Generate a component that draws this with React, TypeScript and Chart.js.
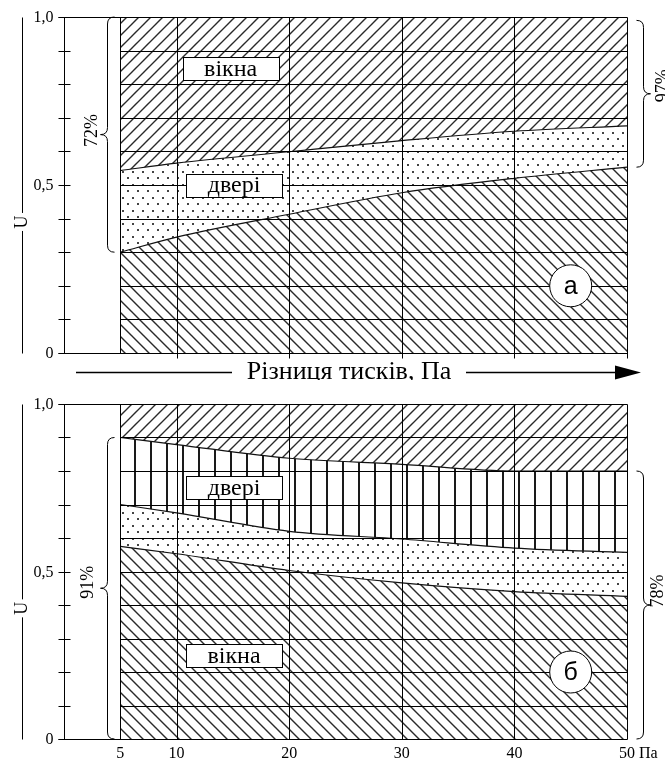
import React, { useEffect, useRef } from "react";
import { Chart, registerables } from "chart.js";

Chart.register(...registerables);

// ---------- data ----------
const PRESSURE = [5, 10, 20, 30, 40, 50];

// panel а
const A_WINDOWS_EDGE = [0.543, 0.565, 0.599, 0.632, 0.66, 0.676];
const A_DOORS_EDGE = [0.3, 0.345, 0.413, 0.477, 0.52, 0.553];

// panel б
const B_TOP_EDGE = [0.9, 0.879, 0.838, 0.82, 0.8, 0.8];
const B_DOORS_EDGE = [0.7, 0.675, 0.62, 0.597, 0.57, 0.557];
const B_WINDOWS_EDGE = [0.575, 0.553, 0.503, 0.466, 0.44, 0.426];

const GRID_X = [5, 10, 20, 30, 40, 50];
const GRID_Y = [0.1, 0.2, 0.3, 0.4, 0.5, 0.6, 0.7, 0.8, 0.9];
const Y_TICK_VALUES = [0, 0.1, 0.2, 0.3, 0.4, 0.5, 0.6, 0.7, 0.8, 0.9, 1.0];
const Y_LABEL_VALUES = [1, 0.5, 0];
const Y_LABEL_TEXT = ["1,0", "0,5", "0"];
const X_LABEL_VALUES = [5, 10, 20, 30, 40, 50];
const X_LABEL_TEXT = ["5", "10", "20", "30", "40", "50"];
const X_UNIT = "Па";
const X_TITLE = "Різниця тисків, Па";
const Y_TITLE = "U";
const LABEL_WINDOWS = "вікна";
const LABEL_DOORS = "двері";

const A_LEFT_BRACE = [1.0, 0.3];
const A_RIGHT_BRACE = [0.99, 0.553];
const B_LEFT_BRACE = [0.9, 0];
const B_RIGHT_BRACE = [0.8, 0];
const A_PCT = ["72%", "97%"];
const B_PCT = ["91%", "78%"];
const A_TAG = "а";
const B_TAG = "б";

const SERIF = '"Liberation Serif", "Times New Roman", serif';
const SANS = '"Liberation Sans", Arial, sans-serif';

function makePattern(kind: string): CanvasPattern {
  const c = document.createElement("canvas");
  const g = c.getContext("2d")!;
  if (kind === "fwd" || kind === "back") {
    const s = 12;
    c.width = s;
    c.height = s;
    g.strokeStyle = "#2a2a2a";
    g.lineWidth = 1.4;
    g.beginPath();
    if (kind === "fwd") {
      g.moveTo(-2, s + 2);
      g.lineTo(s + 2, -2);
      g.moveTo(-2, 2);
      g.lineTo(2, -2);
      g.moveTo(s - 2, s + 2);
      g.lineTo(s + 2, s - 2);
    } else {
      g.moveTo(-2, -2);
      g.lineTo(s + 2, s + 2);
      g.moveTo(s - 2, -2);
      g.lineTo(s + 2, 2);
      g.moveTo(-2, s - 2);
      g.lineTo(2, s + 2);
    }
    g.stroke();
  } else if (kind === "dots") {
    c.width = 10;
    c.height = 13;
    g.fillStyle = "#444";
    g.fillRect(2, 2, 2, 2);
    g.fillRect(7, 8, 2, 2);
  } else {
    c.width = 16;
    c.height = 4;
    g.fillStyle = "#1a1a1a";
    g.fillRect(6, 0, 2, 4);
  }
  return g.createPattern(c, "repeat")!;
}

const pts = (ys: number[]) => PRESSURE.map((x, i) => ({ x, y: ys[i] }));

function brace(ctx: CanvasRenderingContext2D, xLine: number, yTop: number, yBot: number, d: number, r: number) {
  const yMid = (yTop + yBot) / 2;
  ctx.beginPath();
  ctx.moveTo(xLine - d * r, yTop);
  ctx.quadraticCurveTo(xLine, yTop, xLine, yTop + r);
  ctx.lineTo(xLine, yMid - r);
  ctx.quadraticCurveTo(xLine, yMid, xLine + d * r, yMid);
  ctx.quadraticCurveTo(xLine, yMid, xLine, yMid + r);
  ctx.lineTo(xLine, yBot - r);
  ctx.quadraticCurveTo(xLine, yBot, xLine - d * r, yBot);
  ctx.stroke();
}

function rotText(ctx: CanvasRenderingContext2D, text: string, x: number, y: number, font: string) {
  ctx.save();
  ctx.translate(x, y);
  ctx.rotate(-Math.PI / 2);
  ctx.font = font;
  ctx.textAlign = "center";
  ctx.textBaseline = "middle";
  ctx.fillText(text, 0, 0);
  ctx.restore();
}

type PanelCfg = {
  isTop: boolean;
  leftBrace: number[];
  rightBrace: number[];
  pct: string[];
  pctDx: number[];
  pctDy: number[];
  tag: string;
  boxes: { x: number; y: number; text: string }[];
};

function makePlugin(cfg: PanelCfg) {
  return {
    id: "panel",
    afterDatasetsDraw(chart: any) {
      const ctx: CanvasRenderingContext2D = chart.ctx;
      const xs = chart.scales.x;
      const ys = chart.scales.y;
      const X = (v: number) => xs.getPixelForValue(v);
      const Y = (v: number) => ys.getPixelForValue(v);
      const L = Math.round(X(0)) + 0.5;
      const R = Math.round(X(50)) + 0.5;
      const T = Math.round(Y(1)) + 0.5;
      const B = Math.round(Y(0)) + 0.5;
      const x5 = Math.round(X(5)) + 0.5;
      ctx.save();
      ctx.strokeStyle = "#000";
      ctx.lineWidth = 1;
      ctx.beginPath();
      for (const v of GRID_Y) {
        const y = Math.round(Y(v)) + 0.5;
        ctx.moveTo(x5, y);
        ctx.lineTo(R, y);
      }
      for (const v of GRID_X) {
        const x = Math.round(X(v)) + 0.5;
        ctx.moveTo(x, T);
        ctx.lineTo(x, B + (cfg.isTop && v > 5 ? 5 : 0));
      }
      ctx.moveTo(L - 6, T);
      ctx.lineTo(R, T);
      ctx.moveTo(L - 6, B);
      ctx.lineTo(R, B);
      ctx.moveTo(L, T);
      ctx.lineTo(L, B);
      for (const v of Y_TICK_VALUES) {
        const y = Math.round(Y(v)) + 0.5;
        ctx.moveTo(L - 6, y);
        ctx.lineTo(L + 6, y);
      }
      ctx.stroke();

      // y tick labels
      ctx.fillStyle = "#000";
      ctx.font = `16px ${SERIF}`;
      ctx.textAlign = "right";
      ctx.textBaseline = "middle";
      Y_LABEL_VALUES.forEach((v, i) => ctx.fillText(Y_LABEL_TEXT[i], L - 11, Y(v) + 1));

      // y title with lines
      const ux = 22.5;
      const uy = Y(0.39);
      ctx.beginPath();
      ctx.moveTo(ux, T);
      ctx.lineTo(ux, uy - 9);
      ctx.moveTo(ux, uy + 9);
      ctx.lineTo(ux, B);
      ctx.stroke();
      rotText(ctx, Y_TITLE, ux, uy, `18px ${SERIF}`);

      // braces
      ctx.lineWidth = 1;
      const lx = L + 43;
      const lt = Y(cfg.leftBrace[0]);
      const lb = Y(cfg.leftBrace[1]);
      brace(ctx, lx, lt, lb, -1, 7);
      rotText(ctx, cfg.pct[0], lx - cfg.pctDx[0], (lt + lb) / 2 + cfg.pctDy[0], `18px ${SERIF}`);
      const rx = R + 16;
      const rt = Y(cfg.rightBrace[0]);
      const rb = Y(cfg.rightBrace[1]);
      brace(ctx, rx, rt, rb, 1, 7);
      rotText(ctx, cfg.pct[1], rx + cfg.pctDx[1], (rt + rb) / 2 + cfg.pctDy[1], `18px ${SERIF}`);

      // boxes
      for (const b of cfg.boxes) {
        const cx = X(b.x);
        const cy = Y(b.y);
        const w = 96;
        const h = 23;
        const bx = Math.round(cx - w / 2) + 0.5;
        const by = Math.round(cy - h / 2) + 0.5;
        ctx.fillStyle = "#fff";
        ctx.fillRect(bx, by, w, h);
        ctx.strokeRect(bx, by, w, h);
        ctx.fillStyle = "#000";
        ctx.font = `24px ${SERIF}`;
        ctx.textAlign = "center";
        ctx.textBaseline = "middle";
        ctx.fillText(b.text, cx, cy + 1);
      }

      // circle tag
      const tx = X(45);
      const ty = Y(0.2);
      ctx.beginPath();
      ctx.arc(tx, ty, 21, 0, Math.PI * 2);
      ctx.fillStyle = "#fff";
      ctx.fill();
      ctx.stroke();
      ctx.fillStyle = "#000";
      ctx.font = `25px ${SANS}`;
      ctx.textAlign = "center";
      ctx.textBaseline = "middle";
      ctx.fillText(cfg.tag, tx, ty + 1);

      if (cfg.isTop) {
        const ay = Math.round(B + 18) + 0.5;
        ctx.lineWidth = 1.5;
        ctx.beginPath();
        ctx.moveTo(76, ay);
        ctx.lineTo(232, ay);
        ctx.moveTo(466, ay);
        ctx.lineTo(618, ay);
        ctx.stroke();
        ctx.beginPath();
        ctx.moveTo(615, ay - 7);
        ctx.lineTo(641, ay);
        ctx.lineTo(615, ay + 7);
        ctx.closePath();
        ctx.fill();
        ctx.font = `26px ${SERIF}`;
        ctx.textAlign = "center";
        ctx.textBaseline = "middle";
        ctx.fillText(X_TITLE, 349, ay);
      } else {
        ctx.font = `16px ${SERIF}`;
        ctx.textAlign = "center";
        ctx.textBaseline = "middle";
        X_LABEL_VALUES.forEach((v, i) => ctx.fillText(X_LABEL_TEXT[i], X(v), B + 14));
        ctx.textAlign = "left";
        ctx.fillText(X_UNIT, X(50) + 12, B + 14);
      }
      ctx.restore();
    },
  };
}

const lineDs = (data: number[], fill: any, bg: any, border = 1.2) => ({
  data: pts(data),
  fill,
  backgroundColor: bg,
  borderColor: "#111",
  borderWidth: border,
  pointRadius: 0,
  cubicInterpolationMode: "monotone" as const,
});

function baseOptions(padding: any) {
  return {
    responsive: false,
    animation: false as const,
    events: [] as any[],
    layout: { padding },
    scales: {
      x: { type: "linear" as const, min: 0, max: 50, display: false },
      y: { type: "linear" as const, min: 0, max: 1, display: false },
    },
    plugins: { legend: { display: false }, tooltip: { enabled: false } },
  };
}

export default function App() {
  const topRef = useRef<HTMLCanvasElement>(null);
  const botRef = useRef<HTMLCanvasElement>(null);

  useEffect(() => {
    const fwd = makePattern("fwd");
    const back = makePattern("back");
    const dots = makePattern("dots");
    const vert = makePattern("vert");

    const chartA = new Chart(topRef.current!, {
      type: "line",
      data: {
        datasets: [
          lineDs(A_WINDOWS_EDGE, "end", fwd),
          lineDs(A_DOORS_EDGE, 0, dots),
          lineDs(A_DOORS_EDGE, "origin", back, 0),
        ],
      },
      options: baseOptions({ left: 64, right: 38, top: 17, bottom: 27 }) as any,
      plugins: [
        makePlugin({
          isTop: true,
          leftBrace: A_LEFT_BRACE,
          rightBrace: A_RIGHT_BRACE,
          pct: A_PCT,
          pctDx: [15, 20],
          pctDy: [-4, -8],
          tag: A_TAG,
          boxes: [
            { x: 14.8, y: 0.847, text: LABEL_WINDOWS },
            { x: 15.1, y: 0.5, text: LABEL_DOORS },
          ],
        }) as any,
      ],
    });

    const chartB = new Chart(botRef.current!, {
      type: "line",
      data: {
        datasets: [
          lineDs(B_TOP_EDGE, "end", fwd),
          lineDs(B_DOORS_EDGE, 0, vert),
          lineDs(B_WINDOWS_EDGE, 1, dots),
          lineDs(B_WINDOWS_EDGE, "origin", back, 0),
        ],
      },
      options: baseOptions({ left: 64, right: 38, top: 24, bottom: 21 }) as any,
      plugins: [
        makePlugin({
          isTop: false,
          leftBrace: B_LEFT_BRACE,
          rightBrace: B_RIGHT_BRACE,
          pct: B_PCT,
          pctDx: [19, 15],
          pctDy: [-6, -14],
          tag: B_TAG,
          boxes: [
            { x: 15.1, y: 0.75, text: LABEL_DOORS },
            { x: 15.1, y: 0.25, text: LABEL_WINDOWS },
          ],
        }) as any,
      ],
    });

    return () => {
      chartA.destroy();
      chartB.destroy();
    };
  }, []);

  return (
    <div style={{ position: "absolute", left: 0, top: 0, width: 665, height: 760, background: "#fff" }}>
      <canvas ref={topRef} width={665} height={380} style={{ position: "absolute", left: 0, top: 0, width: 665, height: 380 }} />
      <canvas ref={botRef} width={665} height={380} style={{ position: "absolute", left: 0, top: 380, width: 665, height: 380 }} />
    </div>
  );
}
